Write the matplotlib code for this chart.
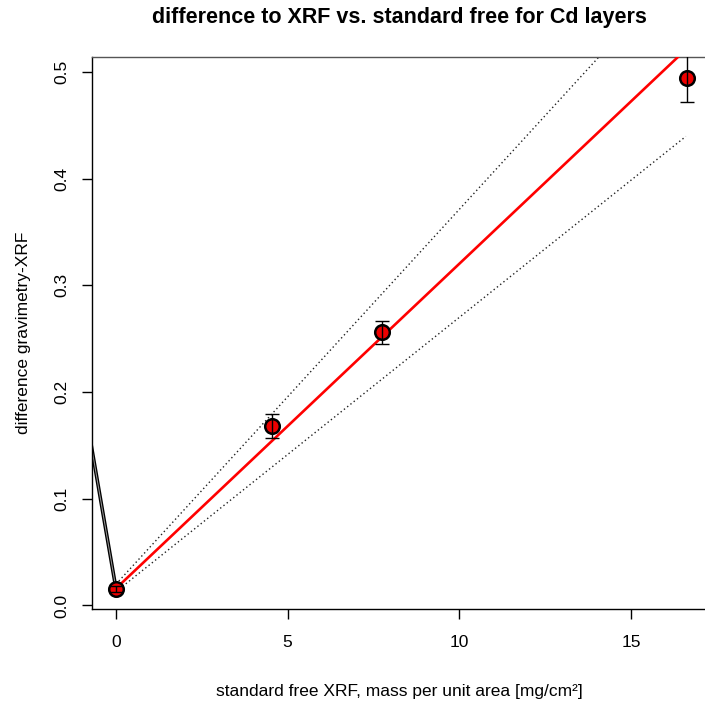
import matplotlib
matplotlib.use("Agg")
import matplotlib.pyplot as plt

plt.rcParams['font.family'] = ['Liberation Sans', 'DejaVu Sans']

# data
x_vals = [0.0, 4.535, 7.76, 16.62]
y_vals = [0.0155, 0.168, 0.256, 0.494]
y_err = [0.003, 0.0112, 0.0105, 0.0225]

fit_x = [0.0, 16.6]
fit_y = [0.016, 0.521]
upper_y = [0.020, 0.603]
lower_y = [0.013, 0.4396]

left_x = [-0.75, 0.0]
left_y = [0.1553, 0.0155]

xticks = [0, 5, 10, 15]
yticks = [0.0, 0.1, 0.2, 0.3, 0.4, 0.5]

W, H = 705, 701
fig = plt.figure(figsize=(W / 100, H / 100), dpi=100)
ax = fig.add_axes([92 / W, 1 - 609 / H, 1 - 92 / W + 0.002, (609 - 56.7) / H])

ax.set_xlim(-0.70, 17.20)
ax.set_ylim(-0.0033, 0.5143)

ax.plot(left_x, left_y, color='black', lw=2.6, solid_capstyle='butt', zorder=2)
ax.plot(left_x, left_y, color='#9a9a9a', lw=0.7, solid_capstyle='butt', zorder=2.1)

ax.plot(fit_x, upper_y, color='#222222', lw=1.0, linestyle=(0, (1, 2)), zorder=2)
ax.plot(fit_x, lower_y, color='#222222', lw=1.0, linestyle=(0, (1, 2)), zorder=2)
ax.plot(fit_x, fit_y, color='#ff0000', lw=1.9, zorder=3)

ax.scatter(x_vals, y_vals, s=110, facecolor='#ee0000', edgecolor='black', linewidths=1.8, zorder=4)
ax.errorbar(x_vals, y_vals, yerr=y_err, fmt='none', ecolor='black', elinewidth=1.0,
            capsize=5, capthick=1.0, zorder=5)

ax.set_xticks(xticks)
ax.set_xticklabels([str(t) for t in xticks])
ax.set_yticks(yticks)
ax.set_yticklabels([f"{t:.1f}" for t in yticks], rotation=90, va='center')

ax.tick_params(axis='both', direction='out', length=7, width=1.0, labelsize=12.5, colors='black')
ax.tick_params(axis='x', pad=12)
ax.tick_params(axis='y', pad=9)

for s in ['left', 'bottom', 'top']:
    ax.spines[s].set_linewidth(1.0)
    ax.spines[s].set_color('black')
ax.spines['top'].set_color('#555555')
ax.spines['right'].set_visible(False)

ax.set_xlabel("standard free XRF, mass per unit area [mg/cm²]", fontsize=12.5, labelpad=24)
ax.set_ylabel("difference gravimetry-XRF", fontsize=12.5, labelpad=17)

fig.text(399.5 / W, 1 - 18 / H, "difference to XRF vs. standard free for Cd layers",
         ha='center', va='center', fontsize=15.5, fontweight='bold')

fig.savefig("out.png", dpi=100)
